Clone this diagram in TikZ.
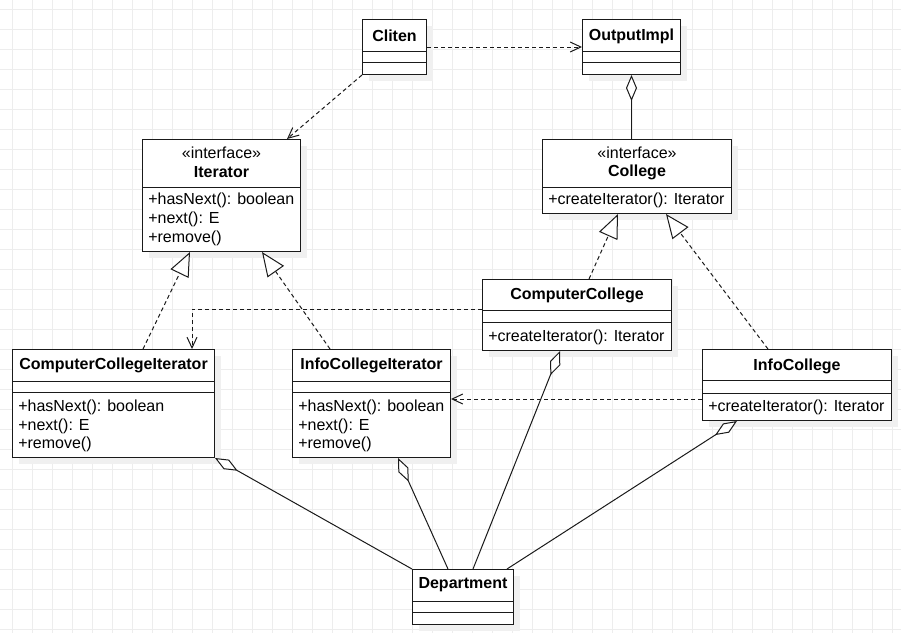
\documentclass[tikz,border=0pt]{standalone}
\usepackage{fontspec}
\setmainfont{Liberation Sans}
\usetikzlibrary{arrows.meta,calc}
\definecolor{gridc}{HTML}{EDEDED}
\definecolor{shadowc}{HTML}{F0F0F0}
\definecolor{linec}{HTML}{1A1A1A}
\newcommand\umlcls[5]{%
  \fill[shadowc] (#2+7,#3+7) rectangle ++(#4,#5);
  \node[cls, minimum width=#4*0.75pt, minimum height=#5*0.75pt] (#1) at (#2,#3) {};}
\newcommand\umlsep[2]{%
  \draw[sepline] ($(#1.north west)+(0,#2)$) -- ($(#1.north east)+(0,#2)$);}
\begin{document}
\begin{tikzpicture}[x=0.75pt,y=-0.75pt,
  every node/.style={font=\fontsize{12pt}{14pt}\selectfont, inner sep=0pt, text=black},
  cls/.style={draw=linec, line width=0.75pt, fill=white, anchor=north west},
  sepline/.style={draw=linec, line width=0.75pt},
  ttl/.style={font=\fontsize{12pt}{14pt}\selectfont\bfseries},
  attr/.style={anchor=west},
  conn/.style={draw=linec, line width=0.75pt},
  dep/.style={conn, dash pattern=on 3pt off 2.25pt, -{Straight Barb[length=8pt,width=7.5pt]}},
  gen/.style={conn, dash pattern=on 3pt off 2.25pt, -{Triangle[length=18pt,width=15pt,fill=white]}},
  aggr/.style={conn, {Diamond[length=19.5pt,width=8.25pt,fill=white]}-},
]
\useasboundingbox (0,0) rectangle (901,633);
\fill[white] (0,0) rectangle (901,633);
\foreach \x in {12,32,...,892} \draw[gridc, line width=0.75pt] (\x,0) -- (\x,633);
\foreach \y in {9,29,...,629} \draw[gridc, line width=0.75pt] (0,\y) -- (901,\y);

% Cliten
\umlcls{cliten}{362}{19}{64}{55}
\umlsep{cliten}{32}\umlsep{cliten}{43}
\node[ttl] at ($(cliten.north)+(0,17)$) {Cliten};
% OutputImpl
\umlcls{output}{582}{19}{98}{55}
\umlsep{output}{32}\umlsep{output}{43}
\node[ttl] at ($(output.north)+(0,17)$) {OutputImpl};
% Iterator
\umlcls{iterator}{142}{139}{158}{112}
\umlsep{iterator}{48}
\node at ($(iterator.north)+(0,14)$) {«interface»};
\node[ttl] at ($(iterator.north)+(0,33)$) {Iterator};
\node[attr] at ($(iterator.north west)+(6,61.5)$) {+hasNext(): boolean};
\node[attr] at ($(iterator.north west)+(6,80.5)$) {+next(): E};
\node[attr] at ($(iterator.north west)+(6,99.5)$) {+remove()};
% College
\umlcls{college}{542}{139}{189}{74}
\umlsep{college}{48}
\node at ($(college.north)+(0,14)$) {«interface»};
\node[ttl] at ($(college.north)+(0,33)$) {College};
\node[attr] at ($(college.north west)+(6,61.5)$) {+createIterator(): Iterator};
% ComputerCollege
\umlcls{compcoll}{482}{279}{189}{71}
\umlsep{compcoll}{31}\umlsep{compcoll}{43}
\node[ttl] at ($(compcoll.north)+(0,16)$) {ComputerCollege};
\node[attr] at ($(compcoll.north west)+(6,58.5)$) {+createIterator(): Iterator};
% InfoCollege
\umlcls{infocoll}{702}{349}{189}{71}
\umlsep{infocoll}{31}\umlsep{infocoll}{44}
\node[ttl] at ($(infocoll.north)+(0,17)$) {InfoCollege};
\node[attr] at ($(infocoll.north west)+(6,58.5)$) {+createIterator(): Iterator};
% ComputerCollegeIterator
\umlcls{cci}{12}{349}{202}{108}
\umlsep{cci}{32}\umlsep{cci}{43}
\node[ttl] at ($(cci.north)+(0,16)$) {ComputerCollegeIterator};
\node[attr] at ($(cci.north west)+(6,58.5)$) {+hasNext(): boolean};
\node[attr] at ($(cci.north west)+(6,77)$) {+next(): E};
\node[attr] at ($(cci.north west)+(6,95.5)$) {+remove()};
% InfoCollegeIterator
\umlcls{ici}{292}{349}{158}{108}
\umlsep{ici}{32}\umlsep{ici}{43}
\node[ttl] at ($(ici.north)+(0,16)$) {InfoCollegeIterator};
\node[attr] at ($(ici.north west)+(6,58.5)$) {+hasNext(): boolean};
\node[attr] at ($(ici.north west)+(6,77)$) {+next(): E};
\node[attr] at ($(ici.north west)+(6,95.5)$) {+remove()};
% Department
\umlcls{dept}{412}{569}{101}{55}
\umlsep{dept}{32}\umlsep{dept}{43}
\node[ttl] at ($(dept.north)+(0,16)$) {Department};

% connectors
\draw[dep] (cliten.south west) -- ($(iterator.north west)+(145,0)$);
\draw[dep] (cliten.east) -- (output.west);
\draw[aggr] (output.south) -- (output.south |- college.north);
\draw[gen] ($(cci.north west)+(131,0)$) -- ($(iterator.south west)+(48,0)$);
\draw[gen] ($(ici.north west)+(38,0)$) -- ($(iterator.south west)+(120,0)$);
\draw[gen] ($(compcoll.north west)+(107,0)$) -- ($(college.south west)+(76,0)$);
\draw[gen] ($(infocoll.north west)+(66,0)$) -- ($(college.south west)+(124,0)$);
\draw[dep] ($(compcoll.north west)+(0,30)$) -| ($(cci.north west)+(180,0)$);
\draw[dep] ($(infocoll.north west)+(0,50)$) -- ($(ici.north east)+(0,50)$);
\draw[aggr] (cci.south east) -- (dept.north west);
\draw[aggr] ($(ici.south west)+(106,0)$) -- ($(dept.north west)+(36,0)$);
\draw[aggr] ($(compcoll.south west)+(78,0)$) -- ($(dept.north west)+(61,0)$);
\draw[aggr] ($(infocoll.south west)+(35,0)$) -- ($(dept.north west)+(95,0)$);
\end{tikzpicture}
\end{document}
